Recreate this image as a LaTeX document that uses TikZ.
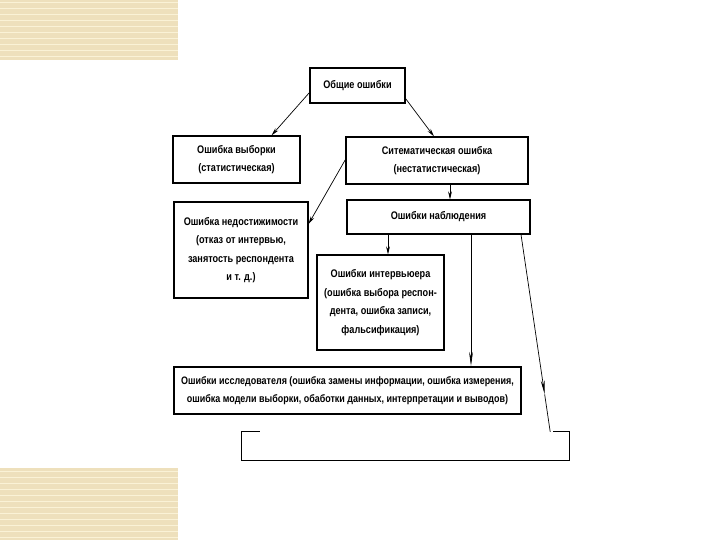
\documentclass[tikz,border=0pt]{standalone}
\usepackage{fontspec}
\setmainfont{Liberation Sans}[FakeStretch=0.83]
\usetikzlibrary{arrows.meta,calc}
\definecolor{beige}{RGB}{238,224,188}
\definecolor{beigelight}{RGB}{250,242,214}
\begin{document}
\begin{tikzpicture}[x=1pt,y=-1pt,
  box/.style={draw=black,line width=1.1pt,align=center,inner sep=0pt,
    font=\fontsize{11}{18.5}\selectfont\bfseries},
  arr/.style={-{Stealth[length=8pt,width=3.8pt]},line width=0.7pt},
  longarr/.style={-{Stealth[length=14pt,width=3.8pt]},line width=0.7pt},
  plain/.style={line width=0.7pt}]
\useasboundingbox (0,0) rectangle (720,540);
\fill[white] (0,0) rectangle (720,540);
% decorative corners
\fill[beige] (0,0) rectangle (178,60);
\fill[beige] (0,468) rectangle (178,540);
\foreach \yy in {3,9,...,57} {\draw[beigelight,line width=1pt] (0,\yy) -- (178,\yy);}
\foreach \yy in {471,477,...,537} {\draw[beigelight,line width=1pt] (0,\yy) -- (178,\yy);}
% boxes
\node[box,minimum width=95pt,minimum height=35pt] (gen) at (357.5,85.5) {Общие ошибки};
\node[box,minimum width=127pt,minimum height=47pt] (samp) at (236.5,159.5) {Ошибка выборки\\(статистическая)};
\node[box,minimum width=182pt,minimum height=47pt] (sys) at (437,160.5) {Ситематическая ошибка\\(нестатистическая)};
\node[box,minimum width=183pt,minimum height=34pt] (obs) at (438.5,217) {Ошибки наблюдения};
\node[box,minimum width=134pt,minimum height=96pt] (nonresp) at (241,250) {Ошибка недостижимости\\(отказ от интервью,\\занятость респондента\\и т. д.)};
\node[box,minimum width=127pt,minimum height=95pt] (interv) at (380.5,302.5) {Ошибки интервьюера\\(ошибка выбора респон-\\дента, ошибка записи,\\фальсификация)};
\node[box,line width=2pt,minimum width=347pt,minimum height=47pt,font=\fontsize{10.8}{18}\selectfont\bfseries] (res) at (347.5,390.5) {Ошибки исследователя (ошибка замены информации, ошибка измерения,\\ошибка модели выборки, обаботки данных, интерпретации и выводов)};
\node[minimum width=327pt,minimum height=28pt,inner sep=0pt] (bot) at (405.5,446) {};
\draw[line width=1.1pt] ([xshift=18pt]bot.north west) -- (bot.north west) -- (bot.south west) -- (bot.south east) -- (bot.north east) -- ([xshift=-16pt]bot.north east);
% connectors
\draw[arr] ([yshift=11pt]gen.south west) -- ([xshift=35pt]samp.north);
\draw[arr] ([yshift=5pt]gen.south east) -- ([xshift=-3pt]sys.north);
\draw[arr] ([xshift=13pt]sys.south) -- ([xshift=13pt]sys.south |- obs.north);
\draw[arr] ([yshift=1pt]sys.west) -- ([yshift=26pt]nonresp.east);
\draw[arr] ([xshift=-50.5pt]obs.south) -- ([xshift=-50.5pt]obs.south |- interv.north);
\draw[longarr] ([xshift=32.5pt]obs.south) -- ([xshift=32.5pt]obs.south |- res.north);
\coordinate (ostart) at ([xshift=82.5pt]obs.south);
\coordinate (oend) at ([xshift=-19pt]bot.north east);
\coordinate (omid) at ($(ostart)!0.81!(oend)$);
\draw[longarr] (ostart) -- (omid);
\draw[plain] (omid) -- (oend);
\end{tikzpicture}
\end{document}
